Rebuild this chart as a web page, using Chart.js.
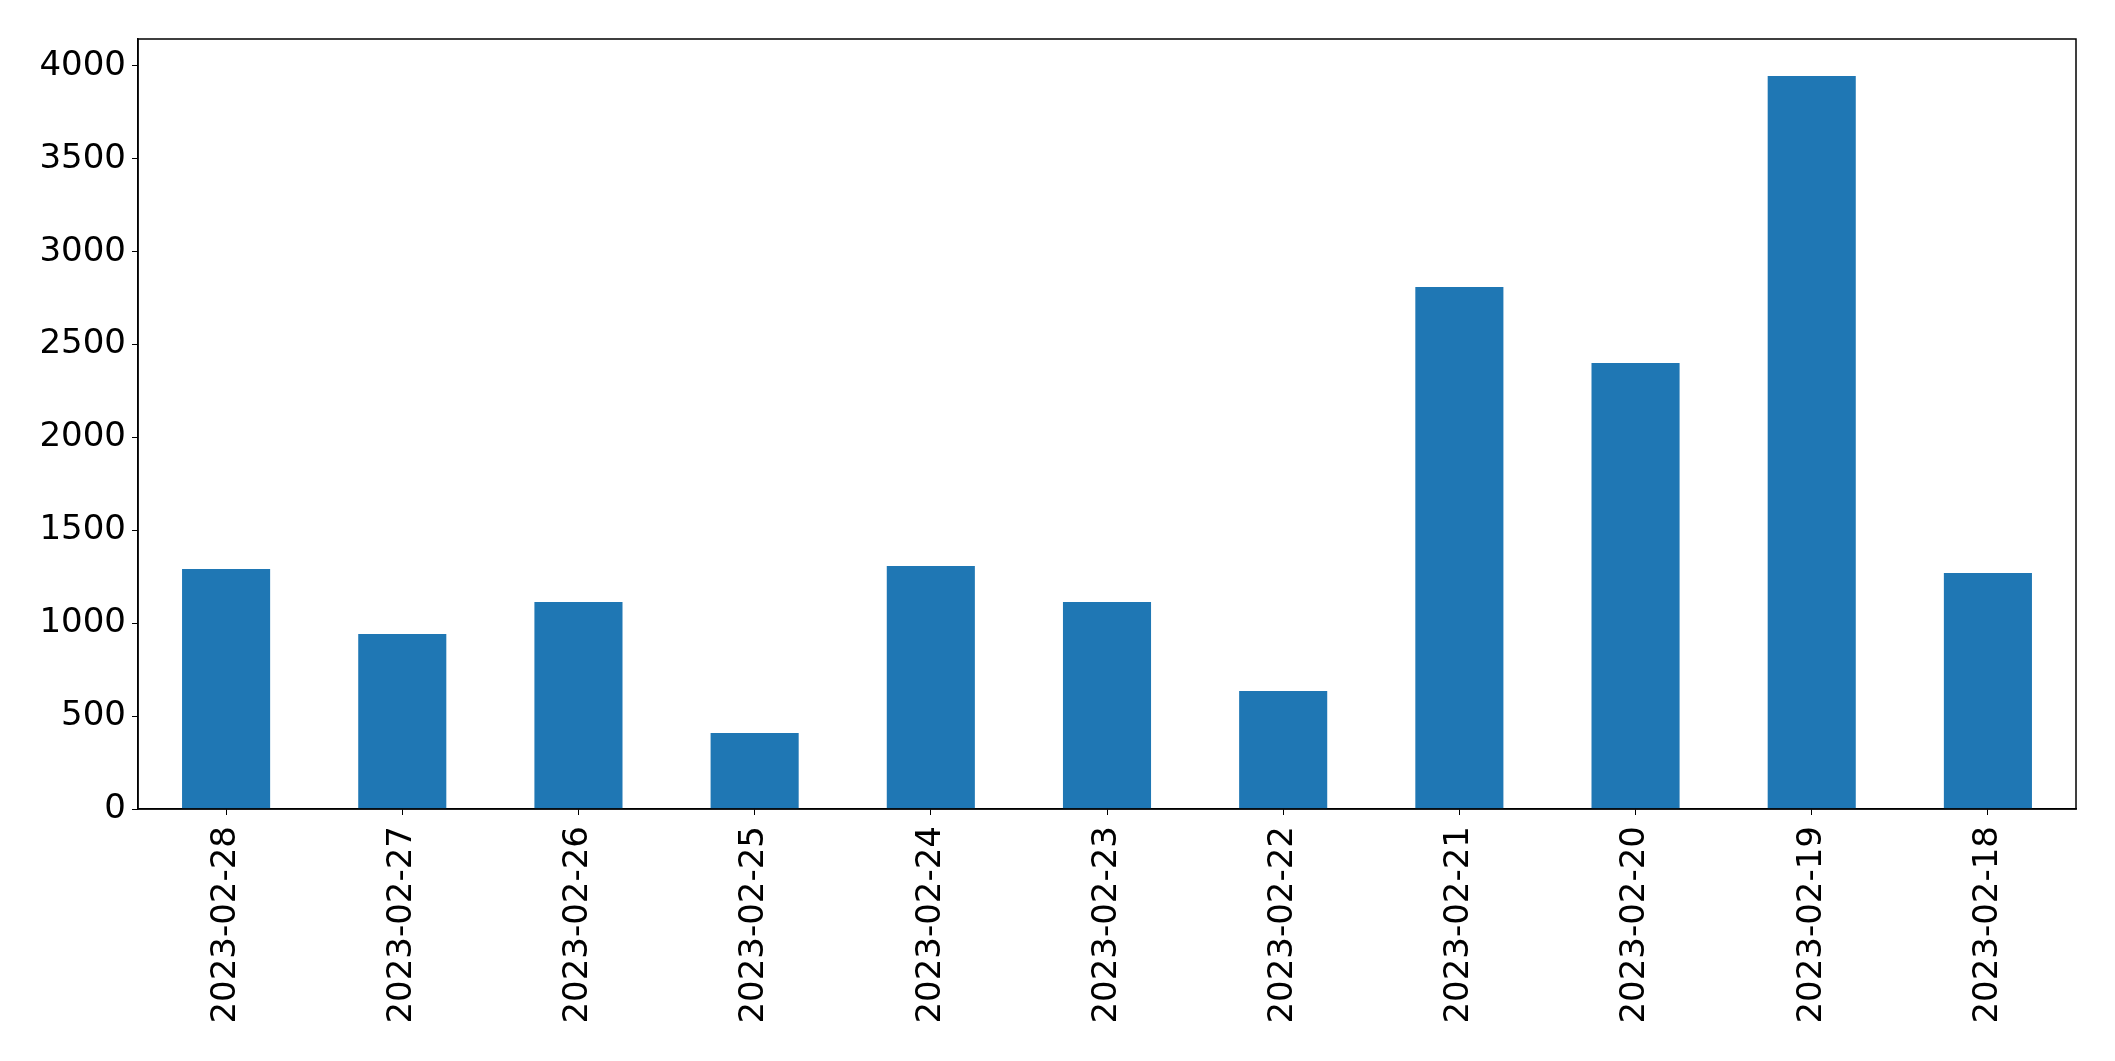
<!DOCTYPE html>
<html>
<head>
<meta charset="utf-8">
<script src="https://cdn.jsdelivr.net/npm/chart.js@4"></script>
<style>
  html, body { margin: 0; padding: 0; background: #fff; }
  #wrap { width: 2115px; height: 1061px; }
</style>
</head>
<body>
<div id="wrap"><canvas id="bar-graph"></canvas></div>
<script>
const dates = ['2023-02-28', '2023-02-27', '2023-02-26', '2023-02-25', '2023-02-24', '2023-02-23',
  '2023-02-22', '2023-02-21', '2023-02-20', '2023-02-19', '2023-02-18'];
const counts = [1292, 942, 1114, 409, 1308, 1114, 635, 2810, 2401, 3946, 1270];
const yTicks = [0, 500, 1000, 1500, 2000, 2500, 3000, 3500, 4000];

// full box round the plot, like matplotlib
const frame = {
  id: 'frame',
  afterDatasetsDraw(chart) {
    const a = chart.chartArea, c = chart.ctx;
    c.save();
    c.strokeStyle = '#000';
    c.lineWidth = 1.5;
    c.strokeRect(a.left, a.top, a.right - a.left, a.bottom - a.top);
    c.restore();
  }
};

const ctx = document.getElementById('bar-graph');
const myChart = new Chart(ctx, {
  type: 'bar',
  plugins: [frame],
  data: {
    labels: dates,
    datasets: [{
      data: counts,
      backgroundColor: '#1f77b4',
      categoryPercentage: 1.0,
      barPercentage: 0.5,
    }],
  },
  options: {
    responsive: true,
    maintainAspectRatio: false,
    animation: false,
    layout: {
      padding: { left: 0, top: 39, right: 39, bottom: 0 }
    },
    scales: {
      x: {
        grid: {
          display: true,
          offset: false,
          drawOnChartArea: false,
          drawTicks: true,
          tickLength: 6,
          color: '#000',
        },
        border: { display: true, color: '#000', width: 1.5 },
        ticks: {
          color: '#000',
          font: { family: 'DejaVu Sans', size: 34 },
          minRotation: 90,
          maxRotation: 90,
          padding: 11,
        },
        afterFit: function(scale) { scale.height = 252; },
      },
      y: {
        min: 0,
        max: 4145,
        grid: {
          display: true,
          drawOnChartArea: false,
          drawTicks: true,
          tickLength: 6,
          color: '#000',
        },
        border: { display: true, color: '#000', width: 1.5 },
        ticks: {
          color: '#000',
          font: { family: 'DejaVu Sans', size: 34 },
          padding: 6,
          callback: function(value) {
            return String(value);
          }
        },
        afterBuildTicks: function(scale) {
          scale.ticks = yTicks.map(function(v) { return { value: v }; });
        },
        afterFit: function(scale) { scale.width = 138; },
      },
    },
    plugins: {
      legend: { display: false },
      tooltip: { enabled: false },
    }
  },
});
</script>
</body>
</html>
